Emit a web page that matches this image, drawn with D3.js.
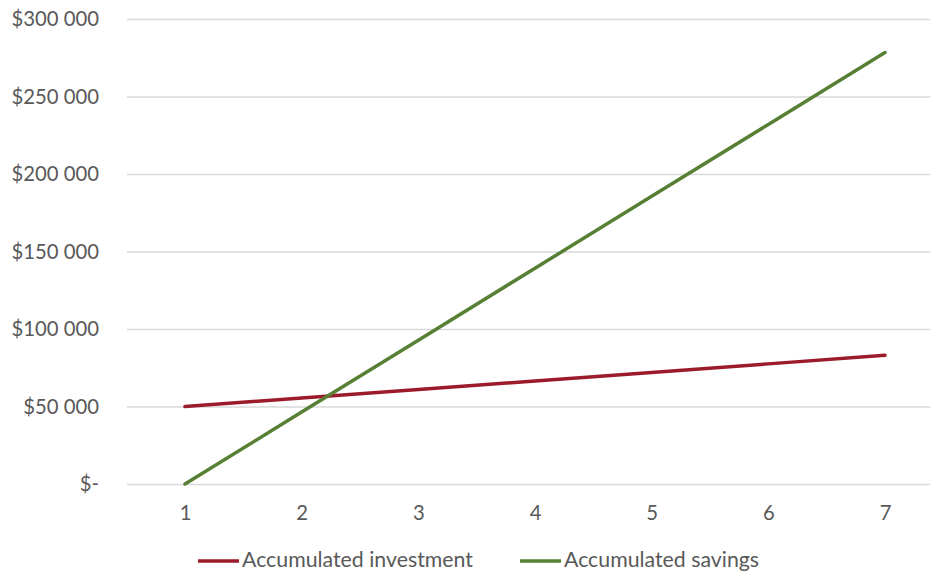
<!DOCTYPE html>
<html><head><meta charset="utf-8">
<script src="https://cdn.jsdelivr.net/npm/d3@7"></script>
<style>body{margin:0;background:#fff}svg{display:block}text{font-family:Lato,"Noto Sans",sans-serif;fill:#595959}</style>
</head><body><svg id="c" width="930" height="572"></svg>
<script>
const categories = [1,2,3,4,5,6,7];
const investment = [50000,55500,61000,66500,72000,77500,83000];
const savings = [0,46400,92800,139200,185600,232000,278400];
const yTicks = [0,50000,100000,150000,200000,250000,300000];
const seriesNames = ["Accumulated investment","Accumulated savings"];
const colors = ["#9b1b2b","#578034"];

const svg = d3.select("#c");
const x = d3.scalePoint().domain(categories).range([185,885]);
const y = d3.scaleLinear().domain([0,300000]).range([484,19]);
const fmt = v => v===0 ? "$-" : "$" + d3.format(",")(v).replace(/,/g," ");

const yAxis = d3.axisLeft(y).tickValues(yTicks).tickSize(-(943-127)).tickFormat(fmt).tickPadding(28);
const gy = svg.append("g").attr("transform","translate(127,0)").call(yAxis);
gy.select(".domain").remove();
gy.selectAll(".tick line").attr("stroke","#d9d9d9").attr("stroke-width",1.3);
gy.selectAll(".tick text").attr("font-size",20.3).style("fill","#595959");

const xAxis = d3.axisBottom(x).tickSize(0).tickPadding(22);
const gx = svg.append("g").attr("transform","translate(0,484)").call(xAxis);
gx.select(".domain").remove();
gx.selectAll(".tick text").attr("font-size",20.3).style("fill","#595959");

const line = d3.line().x((d,i)=>x(categories[i])).y(d=>y(d));
[investment,savings].forEach((s,i)=>{
  svg.append("path").datum(s).attr("d",line).attr("fill","none")
    .attr("stroke",colors[i]).attr("stroke-width",3.5).attr("stroke-linecap","round");
});

const legX = [198,520];
seriesNames.forEach((n,i)=>{
  const g = svg.append("g").attr("transform",`translate(${legX[i]},561)`);
  g.append("line").attr("x1",0).attr("x2",41).attr("stroke",colors[i]).attr("stroke-width",3.5);
  g.append("text").attr("x",44).attr("y",6).attr("font-size",21.3).text(n);
});
</script></body></html>
